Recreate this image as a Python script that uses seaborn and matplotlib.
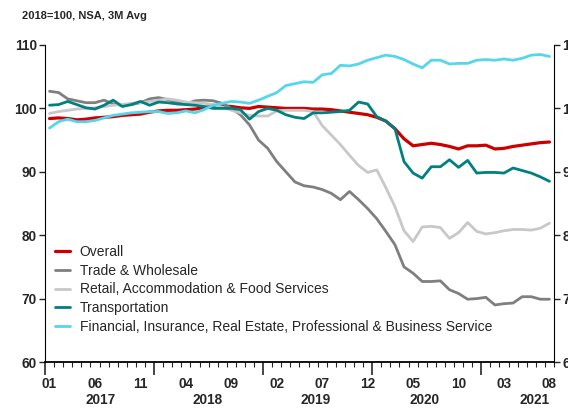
import numpy as np
import matplotlib
matplotlib.use("Agg")
import matplotlib.pyplot as plt
import seaborn as sns
from matplotlib.ticker import FixedLocator, NullFormatter

# Monthly index, 2018=100, Jan 2017 .. Aug 2021
month_labels = ["01", "06", "11", "04", "09", "02", "07", "12", "05", "10", "03", "08"]
year_labels = ["2017", "2018", "2019", "2020", "2021"]

overall = [98.4, 98.5, 98.4, 98.2, 98.3, 98.5, 98.6, 98.7, 98.9, 99.0, 99.1, 99.4,
           99.6, 99.7, 99.7, 99.8, 99.9, 100.1, 100.4, 100.4, 100.3, 100.1, 100.0, 100.3,
           100.2, 100.1, 100.0, 100.0, 100.0, 99.9, 99.9, 99.8, 99.6, 99.4, 99.2, 99.0,
           98.6, 98.0, 96.8, 95.2, 94.1, 94.3, 94.5, 94.3, 94.0, 93.6, 94.1, 94.1,
           94.2, 93.6, 93.7, 94.0, 94.2, 94.4, 94.6, 94.7]

trade = [102.7, 102.5, 101.5, 101.2, 100.9, 100.9, 101.3, 100.7, 100.5, 100.6, 100.9, 101.5,
         101.7, 101.4, 101.0, 100.7, 101.2, 101.3, 101.2, 100.8, 100.0, 99.0, 97.4, 95.0,
         93.7, 91.6, 90.0, 88.4, 87.8, 87.6, 87.2, 86.6, 85.6, 86.9, 85.6, 84.2,
         82.6, 80.6, 78.5, 75.0, 74.0, 72.7, 72.7, 72.8, 71.4, 70.8, 69.9, 70.0,
         70.2, 69.0, 69.2, 69.3, 70.3, 70.3, 69.9, 69.9]

retail = [99.2, 99.5, 99.7, 99.9, 100.0, 100.1, 100.3, 100.5, 100.6, 100.8, 100.9, 101.1,
          101.3, 101.5, 101.3, 101.0, 100.9, 100.8, 100.6, 100.2, 99.7, 99.3, 98.9, 98.8,
          98.8, 99.6, 99.7, 99.7, 99.7, 99.5, 97.3, 95.8, 94.3, 92.6, 91.0, 89.9,
          90.3, 87.5, 84.5, 80.7, 79.0, 81.3, 81.4, 81.2, 79.5, 80.4, 82.0, 80.6,
          80.2, 80.4, 80.7, 80.9, 80.9, 80.8, 81.1, 81.9]

transport = [100.5, 100.6, 101.1, 100.6, 100.1, 99.9, 100.5, 101.3, 100.3, 100.6, 101.1, 100.5,
             101.0, 100.9, 100.7, 100.6, 100.5, 100.3, 100.0, 100.0, 100.0, 99.8, 98.3, 99.5,
             100.0, 99.7, 99.0, 98.6, 98.4, 99.3, 99.3, 99.4, 99.5, 99.7, 101.0, 100.7,
             98.7, 98.0, 96.8, 91.6, 89.8, 89.0, 90.8, 90.8, 91.9, 90.7, 91.8, 89.8,
             89.9, 89.9, 89.8, 90.6, 90.2, 89.8, 89.2, 88.5]

financial = [96.9, 97.9, 98.3, 97.9, 97.9, 98.1, 98.5, 98.9, 99.1, 99.3, 99.4, 99.5,
             99.5, 99.2, 99.3, 99.6, 99.3, 99.8, 100.5, 100.8, 101.1, 101.0, 100.8, 101.3,
             101.9, 102.5, 103.6, 103.9, 104.2, 104.1, 105.3, 105.5, 106.8, 106.7, 107.0, 107.6,
             108.0, 108.4, 108.2, 107.7, 107.0, 106.4, 107.6, 107.6, 107.0, 107.1, 107.1, 107.6,
             107.7, 107.6, 107.8, 107.6, 107.9, 108.4, 108.5, 108.2]

series = [
    ("Overall", overall, "#CC0000", 2.3),
    ("Trade & Wholesale", trade, "#7F7F7F", 2.0),
    ("Retail, Accommodation & Food Services", retail, "#C8C8C8", 2.0),
    ("Transportation", transport, "#008080", 2.0),
    ("Financial, Insurance, Real Estate, Professional & Business Service", financial, "#55D6EA", 2.0),
]

sns.set_style("white")
plt.rcParams["font.family"] = ["Liberation Sans", "DejaVu Sans"]

fig = plt.figure(figsize=(5.68, 4.08), dpi=100)
ax = fig.add_axes([45 / 568, 46 / 408, 509 / 568, 317 / 408])

idx = np.arange(len(overall))
for name, vals, color, lw in series:
    sns.lineplot(x=idx, y=vals, ax=ax, color=color, linewidth=lw, label=name)

ax.set_xlim(-0.5, 55.5)
ax.set_ylim(60, 110)
ax.set_yticks(np.arange(60, 111, 10))
ax.tick_params(axis="y", which="major", direction="out", length=4, width=1,
               left=True, labelsize=9.8, pad=2)
for lab in ax.get_yticklabels():
    lab.set_fontweight("bold")

# x axis: monthly minor ticks, long ticks at year boundaries
ax.xaxis.set_major_locator(FixedLocator([-0.5, 11.5, 23.5, 35.5, 47.5]))
ax.xaxis.set_minor_locator(FixedLocator(np.arange(-0.5, 56, 1)))
ax.xaxis.set_major_formatter(NullFormatter())
ax.tick_params(axis="x", which="major", direction="out", length=9, width=1.2, bottom=True)
ax.tick_params(axis="x", which="minor", direction="out", length=3.5, width=0.8, bottom=True)

xt = ax.get_xaxis_transform()
for k, lab in enumerate(month_labels):
    ax.text(k * 5, -0.07, lab, transform=xt, ha="center", va="center",
            fontsize=9.8, fontweight="bold")
for pos, lab in zip([5.6, 17.4, 29.3, 41.2, 53.4], year_labels):
    ax.text(pos, -0.12, lab, transform=xt, ha="center", va="center",
            fontsize=9.8, fontweight="bold")

for side in ["top"]:
    ax.spines[side].set_visible(False)
ax.spines["left"].set_color("black")
ax.spines["bottom"].set_color("black")
ax.spines["bottom"].set_linewidth(1.3)
ax.spines["right"].set_visible(False)
ax.set_xlabel("")
ax.set_ylabel("")

ax2 = ax.twinx()
ax2.set_ylim(60, 110)
ax2.set_yticks(np.arange(60, 111, 10))
ax2.tick_params(axis="y", direction="out", length=4, width=1, labelsize=9.8, pad=2)
for lab in ax2.get_yticklabels():
    lab.set_fontweight("bold")
ax2.spines["top"].set_visible(False)
ax2.spines["left"].set_visible(False)
ax2.spines["bottom"].set_visible(False)
ax2.spines["right"].set_color("black")

ax.legend(loc="upper left", bbox_to_anchor=(0.019, 0.37), frameon=False,
          fontsize=10, handlelength=1.1, handletextpad=0.7, labelspacing=0.35,
          borderpad=0, borderaxespad=0)

fig.text(22 / 568, 1 - 16 / 408, "2018=100, NSA, 3M Avg", fontsize=8,
         fontweight="bold", va="center", ha="left")

fig.savefig("out.png", dpi=100)
